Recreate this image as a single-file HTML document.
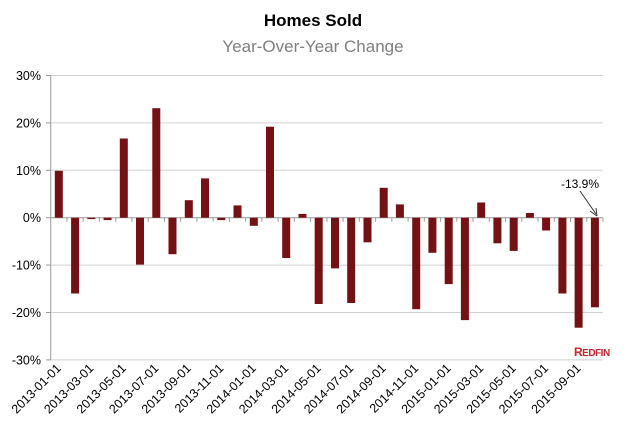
<!DOCTYPE html><html><head><style>body{margin:0;background:#fff}svg{display:block;font-family:"Liberation Sans",sans-serif}</style></head><body>
<svg width="630" height="447" xmlns="http://www.w3.org/2000/svg">
<text x="313" y="26" text-anchor="middle" font-size="17" font-weight="bold" fill="#000">Homes Sold</text>
<text x="313" y="52" text-anchor="middle" font-size="17" fill="#7f7f7f">Year-Over-Year Change</text>
<g stroke="#d0d0d0">
<line x1="50.7" x2="603" y1="75.5" y2="75.5"/><line x1="50.7" x2="603" y1="122.9" y2="122.9"/><line x1="50.7" x2="603" y1="170.3" y2="170.3"/><line x1="50.7" x2="603" y1="265.1" y2="265.1"/><line x1="50.7" x2="603" y1="312.5" y2="312.5"/><line x1="50.7" x2="603" y1="359.9" y2="359.9"/>
</g>
<g stroke="#999">
<line x1="46" x2="50.7" y1="75.5" y2="75.5"/><line x1="46" x2="50.7" y1="122.9" y2="122.9"/><line x1="46" x2="50.7" y1="170.3" y2="170.3"/><line x1="46" x2="50.7" y1="217.7" y2="217.7"/><line x1="46" x2="50.7" y1="265.1" y2="265.1"/><line x1="46" x2="50.7" y1="312.5" y2="312.5"/><line x1="46" x2="50.7" y1="359.9" y2="359.9"/>
<line x1="50.7" x2="50.7" y1="75.5" y2="359.9"/>
<line x1="50.7" x2="603" y1="217.7" y2="217.7"/>
<path d="M66.9 217.7v4M83.2 217.7v4M99.4 217.7v4M115.7 217.7v4M131.9 217.7v4M148.2 217.7v4M164.4 217.7v4M180.7 217.7v4M196.9 217.7v4M213.1 217.7v4M229.4 217.7v4M245.6 217.7v4M261.9 217.7v4M278.1 217.7v4M294.4 217.7v4M310.6 217.7v4M326.9 217.7v4M343.1 217.7v4M359.3 217.7v4M375.6 217.7v4M391.8 217.7v4M408.1 217.7v4M424.3 217.7v4M440.6 217.7v4M456.8 217.7v4M473.0 217.7v4M489.3 217.7v4M505.5 217.7v4M521.8 217.7v4M538.0 217.7v4M554.3 217.7v4M570.5 217.7v4M586.8 217.7v4M603 217.7v4"/>
</g>
<g font-size="12.5" text-anchor="end" fill="#000">
<text x="41" y="80">30%</text><text x="41" y="127.4">20%</text><text x="41" y="174.8">10%</text><text x="41" y="222.2">0%</text><text x="41" y="269.6">-10%</text><text x="41" y="317">-20%</text><text x="41" y="364.4">-30%</text>
</g>
<g fill="#741114">
<rect x="54.8" y="170.8" width="8" height="46.9"/>
<rect x="71.1" y="217.7" width="8" height="75.8"/>
<rect x="87.3" y="217.7" width="8" height="1.4"/>
<rect x="103.6" y="217.7" width="8" height="2.4"/>
<rect x="119.8" y="138.5" width="8" height="79.2"/>
<rect x="136.0" y="217.7" width="8" height="46.9"/>
<rect x="152.3" y="108.2" width="8" height="109.5"/>
<rect x="168.5" y="217.7" width="8" height="36.5"/>
<rect x="184.8" y="200.2" width="8" height="17.5"/>
<rect x="201.0" y="178.4" width="8" height="39.3"/>
<rect x="217.3" y="217.7" width="8" height="2.4"/>
<rect x="233.5" y="205.4" width="8" height="12.3"/>
<rect x="249.8" y="217.7" width="8" height="8.1"/>
<rect x="266.0" y="126.7" width="8" height="91.0"/>
<rect x="282.2" y="217.7" width="8" height="40.3"/>
<rect x="298.5" y="213.9" width="8" height="3.8"/>
<rect x="314.7" y="217.7" width="8" height="86.3"/>
<rect x="331.0" y="217.7" width="8" height="50.7"/>
<rect x="347.2" y="217.7" width="8" height="85.3"/>
<rect x="363.5" y="217.7" width="8" height="24.6"/>
<rect x="379.7" y="187.8" width="8" height="29.9"/>
<rect x="395.9" y="204.4" width="8" height="13.3"/>
<rect x="412.2" y="217.7" width="8" height="91.5"/>
<rect x="428.4" y="217.7" width="8" height="35.1"/>
<rect x="444.7" y="217.7" width="8" height="66.4"/>
<rect x="460.9" y="217.7" width="8" height="102.4"/>
<rect x="477.2" y="202.5" width="8" height="15.2"/>
<rect x="493.4" y="217.7" width="8" height="25.6"/>
<rect x="509.7" y="217.7" width="8" height="33.2"/>
<rect x="525.9" y="213.0" width="8" height="4.7"/>
<rect x="542.1" y="217.7" width="8" height="12.8"/>
<rect x="558.4" y="217.7" width="8" height="75.8"/>
<rect x="574.6" y="217.7" width="8" height="110.0"/>
<rect x="590.9" y="217.7" width="8" height="89.6"/>
</g>
<g font-size="12.5" text-anchor="end" fill="#000">
<text transform="translate(61.8,369) rotate(-45)">2013-01-01</text>
<text transform="translate(94.3,369) rotate(-45)">2013-03-01</text>
<text transform="translate(126.8,369) rotate(-45)">2013-05-01</text>
<text transform="translate(159.3,369) rotate(-45)">2013-07-01</text>
<text transform="translate(191.8,369) rotate(-45)">2013-09-01</text>
<text transform="translate(224.3,369) rotate(-45)">2013-11-01</text>
<text transform="translate(256.8,369) rotate(-45)">2014-01-01</text>
<text transform="translate(289.2,369) rotate(-45)">2014-03-01</text>
<text transform="translate(321.7,369) rotate(-45)">2014-05-01</text>
<text transform="translate(354.2,369) rotate(-45)">2014-07-01</text>
<text transform="translate(386.7,369) rotate(-45)">2014-09-01</text>
<text transform="translate(419.2,369) rotate(-45)">2014-11-01</text>
<text transform="translate(451.7,369) rotate(-45)">2015-01-01</text>
<text transform="translate(484.2,369) rotate(-45)">2015-03-01</text>
<text transform="translate(516.7,369) rotate(-45)">2015-05-01</text>
<text transform="translate(549.1,369) rotate(-45)">2015-07-01</text>
<text transform="translate(581.6,369) rotate(-45)">2015-09-01</text>
</g>
<text x="580" y="188" text-anchor="middle" font-size="12" fill="#000">-13.9%</text>
<line x1="580" y1="191" x2="596" y2="214" stroke="#333" stroke-width="1"/>
<path d="M597,216 L590,211 M597,216 L596,208" stroke="#333" fill="none"/>
<text x="574" y="356" font-size="12" font-weight="bold" fill="#c0282d" letter-spacing="-0.5">R<tspan font-size="10">EDFIN</tspan></text>
</svg></body></html>
